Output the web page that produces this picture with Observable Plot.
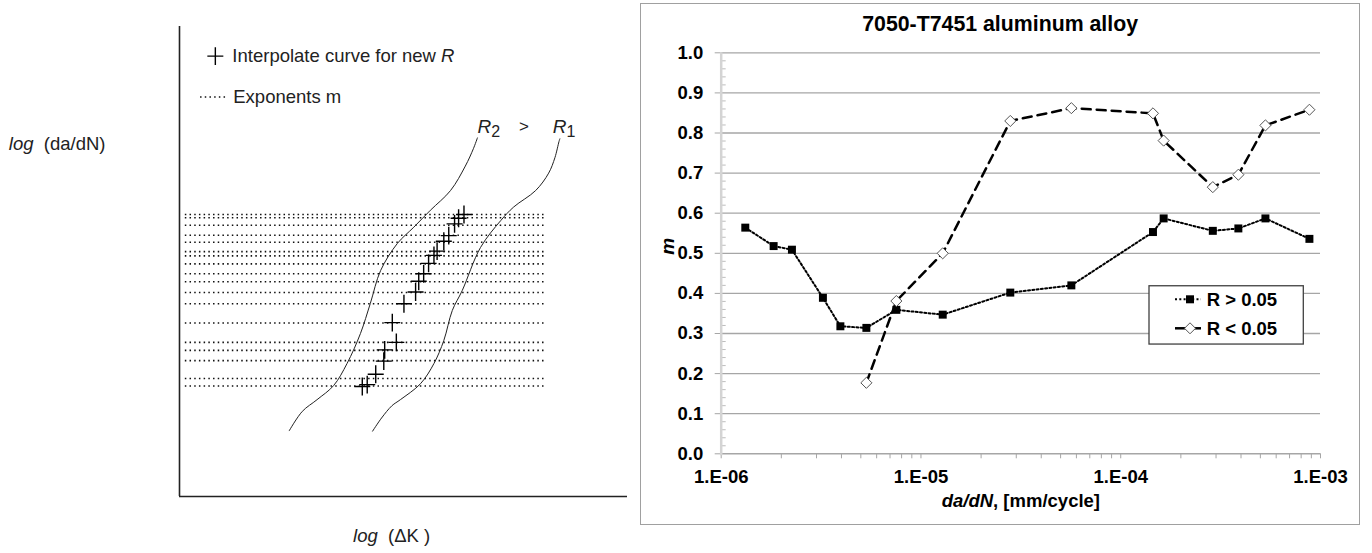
<!DOCTYPE html>
<html><head><meta charset="utf-8">
<script src="https://cdn.jsdelivr.net/npm/d3@7"></script>
<script src="https://cdn.jsdelivr.net/npm/@observablehq/plot@0.6"></script>
<style>
body{margin:0;background:#fff;}
#wrap{position:relative;width:1372px;height:553px;overflow:hidden;font-family:"Liberation Sans",Arial,sans-serif;background:#fff;}
#left{position:absolute;left:0;top:0;}
#right{position:absolute;left:640px;top:0;}
#box{position:absolute;left:640px;top:2.5px;width:720px;height:522.5px;border:1.5px solid #a0a0a0;box-sizing:border-box;}
#legend{position:absolute;left:1148px;top:285px;}
</style></head><body>
<div id="wrap"><div id="box"></div><div id="left"></div><div id="right"></div><div id="legend"></div></div>
<script>
// ---------- Right chart data: 7050-T7451 aluminum alloy ----------
const dadN_hi = [1.32e-6, 1.83e-6, 2.26e-6, 3.23e-6, 3.95e-6, 5.33e-6, 7.53e-6, 1.285e-5, 2.80e-5, 5.66e-5, 1.45e-4, 1.64e-4, 2.89e-4, 3.88e-4, 5.30e-4, 8.80e-4];
const m_hi    = [0.564, 0.518, 0.509, 0.389, 0.318, 0.314, 0.359, 0.347, 0.402, 0.420, 0.553, 0.587, 0.556, 0.562, 0.587, 0.536];
const dadN_lo = [5.33e-6, 7.53e-6, 1.285e-5, 2.80e-5, 5.66e-5, 1.45e-4, 1.64e-4, 2.89e-4, 3.88e-4, 5.30e-4, 8.80e-4];
const m_lo    = [0.177, 0.381, 0.500, 0.830, 0.862, 0.849, 0.781, 0.665, 0.696, 0.819, 0.858];
const seriesNames = ["R > 0.05", "R < 0.05"];
const xTicks = [1e-6, 1e-5, 1e-4, 1e-3];
const xTickLabels = ["1.E-06", "1.E-05", "1.E-04", "1.E-03"];
const yTicks = [0, 0.1, 0.2, 0.3, 0.4, 0.5, 0.6, 0.7, 0.8, 0.9, 1.0];
const titleText = "7050-T7451 aluminum alloy";

// ---------- Left schematic data (arbitrary log units) ----------
const r2_dK = [2.45, 2.74, 3.07, 3.44, 3.74, 4.04, 4.26, 4.49, 4.86, 5.23, 5.60, 6.05, 6.38, 6.56, 6.65];
const r2_da = [1.40, 1.81, 2.06, 2.36, 2.83, 3.47, 4.11, 4.81, 5.38, 5.73, 6.09, 6.51, 7.03, 7.40, 7.63];
const r1_dK = [4.31, 4.51, 4.74, 4.93, 5.38, 5.68, 5.90, 6.09, 6.31, 6.72, 7.17, 7.46, 7.95, 8.24, 8.38, 8.47, 8.49];
const r1_da = [1.39, 1.67, 1.93, 2.06, 2.40, 2.83, 3.32, 3.96, 4.38, 5.30, 5.87, 6.16, 6.51, 6.88, 7.21, 7.55, 7.61];
const cross_dK = [4.08, 4.19, 4.38, 4.56, 4.58, 4.84, 4.75, 5.01, 5.27, 5.34, 5.45, 5.56, 5.68, 5.75, 5.90, 6.01, 6.14, 6.23, 6.35];
const cross_da = [2.34, 2.38, 2.60, 2.88, 3.12, 3.28, 3.70, 4.10, 4.35, 4.58, 4.74, 4.96, 5.13, 5.22, 5.43, 5.55, 5.80, 5.92, 6.00];
const exponentLevels = [6.00, 5.93, 5.77, 5.56, 5.41, 5.21, 5.12, 4.95, 4.74, 4.57, 4.34, 4.10, 3.69, 3.28, 3.11, 2.89, 2.51, 2.35];

const FONT = '"Liberation Sans", Arial, sans-serif';

function richify(svg, key, parts) {
  d3.select(svg).selectAll("text").each(function () {
    if (this.textContent === key) {
      const t = d3.select(this);
      t.text(null);
      for (const p of parts) {
        const ts = t.append("tspan").text(p.t);
        if (p.italic) ts.attr("font-style", "italic");
        if (p.bold) ts.attr("font-weight", "bold");
        if (p.sub) ts.attr("baseline-shift", p.sub).attr("font-size", p.size);
      }
    }
  });
}

const plusSymbol = {draw(ctx, size) { const r = Math.sqrt(size / Math.PI); ctx.moveTo(-r, 0); ctx.lineTo(r, 0); ctx.moveTo(0, -r * 1.12); ctx.lineTo(0, r * 1.12); }};
const minorYTick = {draw(ctx) { ctx.moveTo(0, 0); ctx.lineTo(4.5, 0); }};

// ---------- Left schematic ----------
const r2 = r2_dK.map((x, i) => ({x, y: r2_da[i]}));
const r1 = r1_dK.map((x, i) => ({x, y: r1_da[i]}));
const crosses = cross_dK.map((x, i) => ({x, y: cross_da[i]}));
const DOTS = "1.5,3.2";

const left = Plot.plot({
  width: 640, height: 553,
  marginLeft: 179, marginRight: 13, marginTop: 26, marginBottom: 57,
  x: {domain: [0, 10], axis: null},
  y: {domain: [0, 10], axis: null},
  style: {fontFamily: FONT, background: "transparent", overflow: "visible"},
  marks: [
    Plot.ruleY(exponentLevels, {x1: 0.13, x2: 8.17, stroke: "#111", strokeWidth: 1.6, strokeDasharray: DOTS}),
    Plot.line(r2, {x: "x", y: "y", curve: "catmull-rom", stroke: "#222", strokeWidth: 1}),
    Plot.line(r1, {x: "x", y: "y", curve: "catmull-rom", stroke: "#222", strokeWidth: 1}),
    Plot.dot(crosses, {x: "x", y: "y", symbol: plusSymbol, r: 8, stroke: "#000", strokeWidth: 1.4, fill: "none"}),
    Plot.ruleX([0], {y1: 0, y2: 10, stroke: "#222", strokeWidth: 1.6}),
    Plot.ruleY([0], {x1: 0, x2: 10, stroke: "#222", strokeWidth: 1.6}),
    // legend
    Plot.dot([{x: 0.80, y: 9.37}], {x: "x", y: "y", symbol: plusSymbol, r: 8, stroke: "#000", strokeWidth: 1.4}),
    Plot.text(["Interpolate curve for new R"], {x: 1.18, y: 9.37, textAnchor: "start", fontSize: 18.5, fill: "#222"}),
    Plot.ruleY([8.50], {x1: 0.47, x2: 1.06, stroke: "#111", strokeWidth: 1.4, strokeDasharray: DOTS}),
    Plot.text(["Exponents m"], {x: 1.20, y: 8.50, textAnchor: "start", fontSize: 18.5, fill: "#222"}),
    // labels
    Plot.text(["R2"], {x: 6.65, y: 7.87, textAnchor: "start", fontSize: 19, fill: "#222"}),
    Plot.text([">"], {x: 7.58, y: 7.87, textAnchor: "start", fontSize: 17, fill: "#222"}),
    Plot.text(["R1"], {x: 8.33, y: 7.87, textAnchor: "start", fontSize: 19, fill: "#222"}),
    Plot.text(["log (da/dN)"], {x: -3.81, y: 7.49, textAnchor: "start", fontSize: 18.5, fill: "#222"}),
    Plot.text(["log (ΔK)"], {x: 3.875, y: -0.85, textAnchor: "start", fontSize: 18.5, fill: "#222"})
  ]
});
richify(left, "Interpolate curve for new R", [{t: "Interpolate curve for new "}, {t: "R", italic: true}]);
richify(left, "R2", [{t: "R", italic: true}, {t: "2", sub: "-4", size: 16}]);
richify(left, "R1", [{t: "R", italic: true}, {t: "1", sub: "-4", size: 16}]);
richify(left, "log (da/dN)", [{t: "log", italic: true}, {t: "\u00a0\u00a0(da/dN)"}]);
richify(left, "log (ΔK)", [{t: "log", italic: true}, {t: "\u00a0\u00a0(ΔK\u00a0)"}]);
document.getElementById("left").append(left);

// ---------- Right chart ----------
const hi = dadN_hi.map((x, i) => ({x, y: m_hi[i]}));
const lo = dadN_lo.map((x, i) => ({x, y: m_lo[i]}));
const xMinor = [];
for (const d of xTicks.slice(0, 3)) for (let k = 2; k <= 9; k++) xMinor.push(d * k);
const yMinor = d3.range(0, 51).filter(i => i % 5 !== 0).map(i => i / 50);
const labelOf = new Map(xTicks.map((v, i) => [v, xTickLabels[i]]));

const right = Plot.plot({
  width: 732, height: 553,
  marginLeft: 80.7, marginRight: 52, marginTop: 52.3, marginBottom: 99.7,
  x: {type: "log", domain: [1e-6, 1e-3]},
  y: {domain: [0, 1]},
  style: {fontFamily: FONT, background: "transparent", overflow: "visible"},
  marks: [
    Plot.ruleY(yTicks.slice(1), {stroke: "#a6a6a6", strokeWidth: 1.3}),
    Plot.axisY({ticks: yTicks, tickSize: 6, tickPadding: 12, tickFormat: d3.format(".1f"), stroke: "#a6a6a6", fill: "#000", fontSize: 18.5, fontWeight: "bold", label: null}),
    Plot.dot(yMinor, {y: d => d, frameAnchor: "left", symbol: minorYTick, stroke: "#bdbdbd", strokeWidth: 1}),
    Plot.axisX({ticks: xTicks.concat(xMinor), tickSize: 5, tickPadding: 11, tickFormat: d => labelOf.get(d) ?? "", stroke: "#a6a6a6", fill: "#000", fontSize: 18.5, fontWeight: "bold", label: null}),
    Plot.ruleY([0], {stroke: "#a6a6a6", strokeWidth: 1.5}),
    Plot.ruleX([1e-6], {y1: -0.005, y2: 1, stroke: "#d4d4d4", strokeWidth: 2.5}),
    Plot.line(hi, {x: "x", y: "y", stroke: "#000", strokeWidth: 2, strokeDasharray: "2,2.3"}),
    Plot.line(lo, {x: "x", y: "y", stroke: "#000", strokeWidth: 2.5, strokeDasharray: "9,6"}),
    Plot.dot(hi, {x: "x", y: "y", symbol: "square", r: 4.5, fill: "#000", stroke: "none"}),
    Plot.dot(lo, {x: "x", y: "y", symbol: "diamond2", r: 5, fill: "#fff", stroke: "#555", strokeWidth: 1}),
    Plot.text([titleText], {frameAnchor: "top", dx: -20.7, dy: -28.5, lineAnchor: "middle", fontSize: 21.3, fontWeight: "bold", fill: "#000"}),
    Plot.text(["m"], {frameAnchor: "left", dx: -53, dy: 1.5, rotate: -90, fontSize: 19, fontWeight: "bold", fontStyle: "italic", fill: "#000"}),
    Plot.text(["da/dN, [mm/cycle]"], {frameAnchor: "bottom", dy: 47.5, lineAnchor: "middle", fontSize: 18.5, fontWeight: "bold", fill: "#000"})
  ]
});
richify(right, "da/dN, [mm/cycle]", [{t: "da/dN", italic: true}, {t: ", [mm/cycle]"}]);
document.getElementById("right").append(right);

// ---------- Legend ----------
const lg = d3.select("#legend").append("svg").attr("width", 158).attr("height", 62)
  .style("font-family", FONT);
lg.append("rect").attr("x", 1).attr("y", 0.75).attr("width", 154.3).attr("height", 58.3)
  .attr("fill", "#fff").attr("stroke", "#404040").attr("stroke-width", 1.3);
const rows = [
  {name: seriesNames[0], y: 14.3, dash: "2,2.3", w: 2, sym: "square"},
  {name: seriesNames[1], y: 43.3, dash: null, w: 2.5, sym: "diamond"}
];
for (const r of rows) {
  lg.append("line").attr("x1", 27).attr("x2", 53).attr("y1", r.y).attr("y2", r.y)
    .attr("stroke", "#000").attr("stroke-width", r.w).attr("stroke-dasharray", r.dash);
  if (r.sym === "square") {
    lg.append("rect").attr("x", 42 - 4).attr("y", r.y - 4).attr("width", 8).attr("height", 8).attr("fill", "#000");
  } else {
    lg.append("path").attr("d", `M42,${r.y - 5.5}L47.5,${r.y}L42,${r.y + 5.5}L36.5,${r.y}Z`)
      .attr("fill", "#fff").attr("stroke", "#555").attr("stroke-width", 1);
  }
  lg.append("text").attr("x", 58.7).attr("y", r.y).attr("dy", "0.35em")
    .attr("font-size", 18.5).attr("font-weight", "bold").text(r.name);
}
</script></body></html>
